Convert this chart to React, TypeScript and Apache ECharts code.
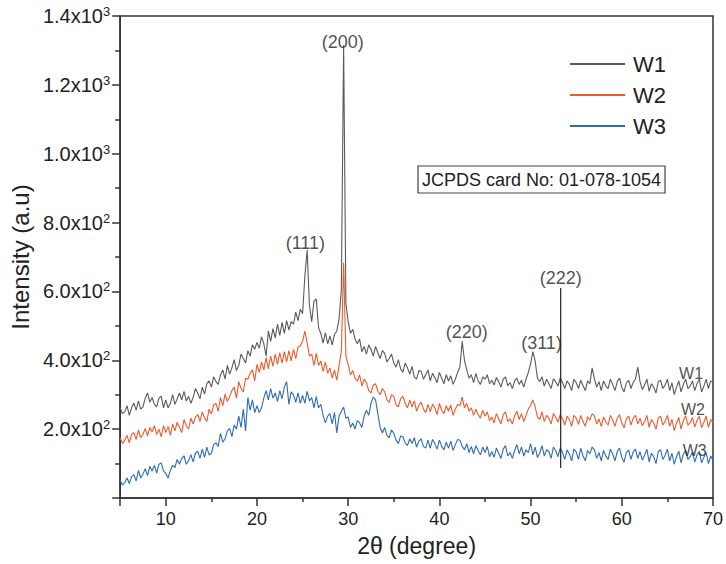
import React, { useEffect, useRef } from 'react';
import * as echarts from 'echarts';

const FONT = '"Liberation Sans", Arial, Helvetica, sans-serif';

// 2θ sampling grid: 5° → 70°, step 0.25°
const X_START = 5;
const X_STEP = 0.25;

// Intensities, four samples per degree (x.00, x.25, x.50, x.75)
const W1 = [
  262, 245, 250, 268, // 5
  240, 262, 276, 255, // 6
  282, 258, 265, 290, // 7
  305, 278, 292, 272, // 8
  265, 290, 296, 262, // 9
  285, 262, 275, 300, // 10
  272, 288, 305, 285, // 11
  310, 282, 295, 275, // 12
  292, 318, 305, 288, // 13
  322, 302, 332, 340, // 14
  322, 352, 338, 330, // 15
  358, 372, 345, 385, // 16
  360, 378, 402, 370, // 17
  385, 418, 405, 392, // 18
  428, 412, 445, 432, // 19
  452, 435, 468, 448, // 20
  412, 485, 455, 492, // 21
  465, 505, 472, 510, // 22
  478, 515, 488, 512, // 23
  505, 540, 515, 548, // 24
  535, 645, 720, 560, // 25
  512, 572, 578, 495, // 26
  478, 450, 480, 448, // 27
  470, 445, 475, 485, // 28
  520, 605, 1316, 565, // 29
  512, 478, 490, 462, // 30
  448, 462, 425, 440, // 31
  418, 445, 432, 412, // 32
  440, 422, 405, 428, // 33
  420, 395, 405, 418, // 34
  392, 380, 402, 375, // 35
  365, 392, 378, 360, // 36
  382, 352, 345, 370, // 37
  368, 345, 358, 372, // 38
  340, 362, 350, 335, // 39
  365, 348, 332, 358, // 40
  340, 355, 330, 345, // 41
  365, 380, 455, 400, // 42
  372, 348, 358, 335, // 43
  362, 340, 330, 352, // 44
  345, 358, 332, 342, // 45
  328, 350, 338, 322, // 46
  345, 352, 326, 335, // 47
  318, 340, 348, 330, // 48
  342, 322, 345, 365, // 49
  390, 425, 398, 348, // 50
  338, 352, 325, 345, // 51
  332, 318, 346, 338, // 52
  325, 348, 336, 318, // 53
  340, 330, 312, 345, // 54
  335, 318, 342, 326, // 55
  312, 340, 332, 378, // 56
  345, 322, 338, 312, // 57
  340, 325, 318, 345, // 58
  330, 312, 338, 348, // 59
  322, 308, 335, 342, // 60
  318, 336, 345, 380, // 61
  338, 315, 328, 345, // 62
  310, 332, 322, 305, // 63
  338, 342, 318, 328, // 64
  345, 312, 335, 300, // 65
  322, 340, 308, 330, // 66
  345, 318, 325, 340, // 67
  312, 332, 345, 308, // 68
  325, 345, 318, 340, // 69
  337, // 70
];

const W2 = [
  175, 158, 168, 182, // 5
  160, 185, 190, 170, // 6
  198, 175, 185, 202, // 7
  180, 205, 192, 210, // 8
  185, 200, 178, 210, // 9
  190, 208, 182, 215, // 10
  195, 220, 205, 190, // 11
  228, 210, 200, 232, // 12
  215, 235, 242, 222, // 13
  250, 232, 222, 258, // 14
  245, 270, 275, 252, // 15
  292, 268, 302, 280, // 16
  295, 312, 322, 290, // 17
  338, 318, 308, 348, // 18
  345, 362, 372, 340, // 19
  388, 365, 395, 372, // 20
  408, 375, 412, 382, // 21
  418, 388, 422, 392, // 22
  425, 395, 428, 398, // 23
  432, 405, 438, 442, // 24
  455, 485, 450, 412, // 25
  418, 385, 420, 385, // 26
  398, 368, 395, 362, // 27
  378, 348, 372, 342, // 28
  385, 425, 683, 412, // 29
  388, 358, 370, 348, // 30
  340, 358, 325, 345, // 31
  335, 312, 305, 328, // 32
  332, 310, 300, 318, // 33
  308, 285, 278, 300, // 34
  295, 270, 265, 288, // 35
  296, 275, 262, 285, // 36
  265, 282, 252, 270, // 37
  278, 258, 248, 272, // 38
  250, 272, 262, 242, // 39
  275, 255, 245, 268, // 40
  252, 270, 240, 258, // 41
  272, 268, 293, 262, // 42
  275, 252, 262, 240, // 43
  258, 242, 232, 255, // 44
  238, 250, 225, 235, // 45
  218, 245, 230, 215, // 46
  242, 250, 222, 230, // 47
  215, 238, 252, 228, // 48
  245, 222, 240, 258, // 49
  268, 285, 265, 235, // 50
  228, 250, 222, 240, // 51
  232, 215, 245, 235, // 52
  220, 242, 230, 212, // 53
  238, 228, 208, 240, // 54
  232, 214, 240, 222, // 55
  208, 236, 226, 245, // 56
  238, 215, 230, 208, // 57
  235, 220, 212, 240, // 58
  226, 208, 232, 242, // 59
  218, 204, 230, 238, // 60
  212, 232, 240, 215, // 61
  232, 210, 222, 240, // 62
  205, 228, 218, 200, // 63
  232, 238, 212, 222, // 64
  240, 208, 228, 196, // 65
  218, 234, 200, 226, // 66
  238, 212, 218, 234, // 67
  206, 226, 238, 204, // 68
  220, 238, 205, 228, // 69
  218, // 70
];

const W3 = [
  52, 38, 45, 58, // 5
  42, 62, 68, 50, // 6
  80, 58, 70, 85, // 7
  65, 92, 78, 95, // 8
  72, 98, 102, 78, // 9
  72, 58, 80, 95, // 10
  88, 112, 98, 115, // 11
  122, 98, 108, 126, // 12
  105, 130, 136, 115, // 13
  142, 118, 148, 125, // 14
  130, 155, 160, 150, // 15
  188, 162, 172, 195, // 16
  202, 178, 212, 200, // 17
  238, 205, 258, 195, // 18
  292, 255, 285, 248, // 19
  268, 248, 262, 290, // 20
  312, 285, 318, 290, // 21
  305, 280, 312, 288, // 22
  322, 338, 272, 308, // 23
  300, 278, 305, 275, // 24
  298, 275, 310, 282, // 25
  292, 262, 295, 262, // 26
  272, 240, 218, 238, // 27
  245, 215, 248, 189, // 28
  238, 252, 264, 232, // 29
  235, 205, 218, 200, // 30
  225, 218, 205, 238, // 31
  255, 240, 275, 293, // 32
  285, 245, 205, 189, // 33
  205, 182, 175, 198, // 34
  188, 168, 158, 180, // 35
  178, 160, 152, 172, // 36
  158, 175, 148, 165, // 37
  172, 150, 145, 168, // 38
  145, 170, 158, 142, // 39
  168, 150, 140, 162, // 40
  145, 165, 138, 155, // 41
  170, 168, 150, 140, // 42
  158, 132, 150, 128, // 43
  152, 138, 125, 148, // 44
  132, 150, 120, 135, // 45
  118, 145, 130, 115, // 46
  142, 152, 122, 132, // 47
  115, 138, 155, 128, // 48
  148, 122, 140, 132, // 49
  158, 125, 148, 118, // 50
  130, 152, 122, 140, // 51
  135, 115, 148, 138, // 52
  120, 145, 132, 112, // 53
  140, 128, 108, 142, // 54
  134, 112, 145, 122, // 55
  108, 138, 128, 148, // 56
  140, 115, 132, 108, // 57
  138, 122, 112, 142, // 58
  128, 108, 135, 145, // 59
  118, 104, 132, 140, // 60
  112, 134, 142, 115, // 61
  135, 110, 124, 142, // 62
  105, 130, 120, 100, // 63
  135, 140, 112, 124, // 64
  142, 108, 130, 98, // 65
  120, 136, 102, 128, // 66
  138, 112, 120, 134, // 67
  104, 125, 136, 102, // 68
  118, 132, 100, 122, // 69
  110, // 70
];

const SERIES_NAMES = ['W1', 'W2', 'W3'];
const SERIES_COLORS = ['#5a5a5a', '#ee5a2e', '#2e6cb6'];

// JCPDS (222) reference stick: [2θ, bottom, top]
const REF_222 = [53.3, 87, 610];

// Peak annotations: [text, 2θ, intensity]
const PEAK_LABELS: [string, number, number][] = [
  ['(111)', 25.3, 741],
  ['(200)', 29.4, 1324],
  ['(220)', 43.0, 482],
  ['(311)', 51.2, 450],
  ['(222)', 53.3, 639],
];

// Curve tags on the right: [text, 2θ, intensity]
const CURVE_TAGS: [string, number, number][] = [
  ['W1', 67.6, 363],
  ['W2', 67.8, 256],
  ['W3', 68.0, 139],
];

const Y_TICKS = [200, 400, 600, 800, 1000, 1200, 1400];
const Y_MANTISSA = ['2.0', '4.0', '6.0', '8.0', '1.0', '1.2', '1.4'];
const Y_EXPONENT = ['2', '2', '2', '2', '3', '3', '3'];

const CARD_TEXT = 'JCPDS card No: 01-078-1054';

const toPairs = (ys: number[]) => ys.map((y, i) => [X_START + i * X_STEP, y]);

export default function App() {
  const ref = useRef<HTMLDivElement>(null);

  useEffect(() => {
    document.body.style.margin = '0';
    if (!ref.current) return;
    const chart = echarts.init(ref.current, null, { renderer: 'svg' });
    const dataSets = [W1, W2, W3];

    const option: any = {
      animation: false,
      backgroundColor: '#ffffff',
      textStyle: { fontFamily: FONT },
      grid: {
        left: 119,
        right: 12,
        top: 16,
        bottom: 66,
        show: true,
        borderColor: '#333',
        borderWidth: 1.5,
        backgroundColor: 'transparent',
      },
      legend: {
        data: SERIES_NAMES,
        orient: 'vertical',
        left: 565,
        top: 48,
        itemWidth: 55,
        itemHeight: 2,
        itemGap: 9,
        icon: 'rect',
        textStyle: { fontSize: 22, color: '#222', fontFamily: FONT, padding: [0, 0, 0, 3] },
      },
      xAxis: {
        type: 'value',
        min: 5,
        max: 70,
        splitNumber: 7,
        name: '2θ (degree)',
        nameLocation: 'middle',
        nameGap: 36,
        nameTextStyle: { fontSize: 23, color: '#222', fontFamily: FONT },
        axisLine: { show: true, lineStyle: { color: '#333', width: 1.5 } },
        axisTick: { show: true, length: 8, lineStyle: { color: '#333', width: 1.5 } },
        minorTick: { show: true, splitNumber: 2, length: 4, lineStyle: { color: '#333', width: 1.5 } },
        axisLabel: { showMinLabel: false, fontSize: 18, color: '#222', margin: 12, fontFamily: FONT },
        splitLine: { show: false },
      },
      yAxis: {
        type: 'value',
        min: 0,
        max: 1400,
        interval: 200,
        name: 'Intensity (a.u)',
        nameLocation: 'middle',
        nameGap: 86,
        nameTextStyle: { fontSize: 24, color: '#222', fontFamily: FONT },
        axisLine: { show: true, lineStyle: { color: '#333', width: 1.5 } },
        axisTick: { show: true, length: 8, lineStyle: { color: '#333', width: 1.5 } },
        minorTick: { show: true, splitNumber: 2, length: 5, lineStyle: { color: '#333', width: 1.5 } },
        axisLabel: {
          margin: 10,
          formatter: (v: number) => {
            const i = Y_TICKS.indexOf(v);
            if (i < 0) return '';
            return `{m|${Y_MANTISSA[i]}x10}{e|${Y_EXPONENT[i]}}`;
          },
          rich: {
            m: { fontSize: 20, color: '#222', fontFamily: FONT, lineHeight: 22 },
            e: { fontSize: 13, color: '#222', fontFamily: FONT, lineHeight: 13, verticalAlign: 'top' },
          },
        },
        splitLine: { show: false },
      },
      series: [
        ...dataSets.map((d, k) => ({
          name: SERIES_NAMES[k],
          type: 'line',
          data: toPairs(d),
          symbol: 'none',
          color: SERIES_COLORS[k],
          lineStyle: { color: SERIES_COLORS[k], width: 1.1 },
          z: 3 - k,
          silent: true,
        })),
        {
          name: 'ref222',
          type: 'line',
          data: [
            [REF_222[0], REF_222[1]],
            [REF_222[0], REF_222[2]],
          ],
          symbol: 'none',
          lineStyle: { color: '#222', width: 1.2 },
          silent: true,
          z: 4,
        },
        {
          name: 'peaks',
          type: 'scatter',
          data: PEAK_LABELS.map(([t, x, y]) => ({ name: t, value: [x, y] })),
          symbolSize: 1,
          itemStyle: { color: 'transparent' },
          label: {
            show: true,
            position: 'inside',
            formatter: '{b}',
            fontSize: 18,
            color: '#222',
            fontFamily: FONT,
          },
          silent: true,
          z: 5,
        },
        {
          name: 'tags',
          type: 'scatter',
          data: CURVE_TAGS.map(([t, x, y]) => ({ name: t, value: [x, y] })),
          symbolSize: 1,
          itemStyle: { color: 'transparent' },
          label: {
            show: true,
            position: 'inside',
            formatter: '{b}',
            fontSize: 16,
            color: '#222',
            fontFamily: FONT,
          },
          silent: true,
          z: 5,
        },
      ],
      graphic: [
        {
          type: 'rect',
          shape: { x: 418, y: 166, width: 247, height: 27 },
          style: { fill: '#fff', stroke: '#444', lineWidth: 1.2 },
          z: 10,
        },
        {
          type: 'text',
          x: 422,
          y: 180,
          style: {
            text: CARD_TEXT,
            fill: '#222',
            font: `18px ${FONT}`,
            textAlign: 'left',
            textVerticalAlign: 'middle',
          },
          z: 11,
        },
      ],
    };

    chart.setOption(option);
    return () => chart.dispose();
  }, []);

  return <div ref={ref} style={{ width: 726, height: 564 }} />;
}
